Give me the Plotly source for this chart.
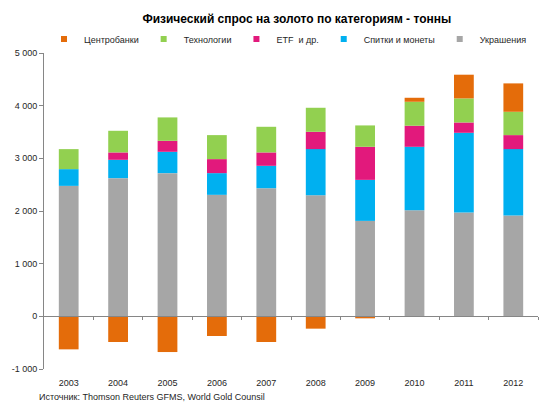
import plotly.graph_objects as go

years = ["2003", "2004", "2005", "2006", "2007", "2008", "2009", "2010", "2011", "2012"]
jewelry = [2477, 2624, 2719, 2307, 2433, 2300, 1812, 2015, 1970, 1914]
bars_coins = [318, 348, 405, 412, 425, 875, 779, 1204, 1515, 1261]
etf = [0, 140, 209, 266, 254, 329, 628, 400, 196, 266]
technology = [380, 411, 444, 456, 487, 456, 406, 455, 457, 443]
central_banks = [-627, -488, -678, -374, -488, -234, -38, 76, 450, 539]

y_tickvals = [-1000, 0, 1000, 2000, 3000, 4000, 5000]
y_ticktext = ["-1 000", "0", "1 000", "2 000", "3 000", "4 000", "5 000"]

series = [
    ("Украшения", jewelry, "#A6A6A6"),
    ("Спитки и монеты", bars_coins, "#00B0F0"),
    ("ETF  и др.", etf, "#E2197C"),
    ("Технологии", technology, "#92D050"),
    ("Центробанки", central_banks, "#E46C0A"),
]

fig = go.Figure()
for name, vals, color in series:
    fig.add_trace(go.Bar(x=years, y=vals, name=name, showlegend=False,
                         marker=dict(color=color, line=dict(width=0)), xaxis="x", yaxis="y"))
# legend entries with small square swatches
for name, vals, color in series:
    fig.add_trace(go.Scatter(x=[years[0]], y=[None], name=name, mode="markers",
                             marker=dict(symbol="square", size=6, color=color),
                             hoverinfo="skip", xaxis="x", yaxis="y"))

# helper trace for the tick axis at zero
fig.add_trace(go.Scatter(x=list(range(len(years))), y=[None] * len(years), xaxis="x2", yaxis="y",
                         showlegend=False, hoverinfo="skip", mode="markers"))

font_family = "Liberation Sans, Arial, sans-serif"
fig.update_layout(
    width=550, height=414,
    margin=dict(l=39.5, r=12, t=53, b=45),
    paper_bgcolor="white", plot_bgcolor="white",
    barmode="relative", bargap=0.6,
    font=dict(family=font_family, size=9, color="#262626"),
    title=dict(text="<b>Физический спрос на золото по категориям - тонны</b>", x=281.5 / 550,
               xanchor="center", xref="paper", yref="container",
               y=1 - 19 / 414, yanchor="middle", font=dict(size=12, color="#000000")),
    legend=dict(orientation="h", traceorder="reversed", x=0.0, xanchor="left",
                y=1 + 14 / 316, yanchor="middle",
                font=dict(size=9), itemwidth=30, bgcolor="rgba(0,0,0,0)"),
    xaxis=dict(type="category", range=[-0.5, len(years) - 0.5], showline=False, ticks="outside",
               ticklen=5, tickcolor="rgba(0,0,0,0)",
               showgrid=False, zeroline=False, tickfont=dict(size=9)),
    xaxis2=dict(overlaying="x", anchor="free", position=1000 / 6000, range=[-0.5, len(years) - 0.5],
                showline=True, linecolor="#868686", linewidth=1, ticks="outside", ticklen=3,
                tickcolor="#868686", tickvals=[i + 0.5 for i in range(len(years))],
                showticklabels=False, showgrid=False, zeroline=False),
    yaxis=dict(range=[-1000, 5000], tickvals=y_tickvals, ticktext=y_ticktext, showline=True,
               linecolor="#868686", linewidth=1, ticks="outside", ticklen=4, tickcolor="#868686",
               showgrid=False, zeroline=False, tickfont=dict(size=9)),
    annotations=[dict(text="Источник: Thomson Reuters GFMS, World Gold Counsil", xref="paper", yref="paper",
                      x=-0.015, y=-0.065, xanchor="left", yanchor="top", showarrow=False,
                      font=dict(size=9, color="#262626"))],
)

fig.write_html("out.html", post_script="document.body.style.margin='0px';",
               config={"displayModeBar": False})
